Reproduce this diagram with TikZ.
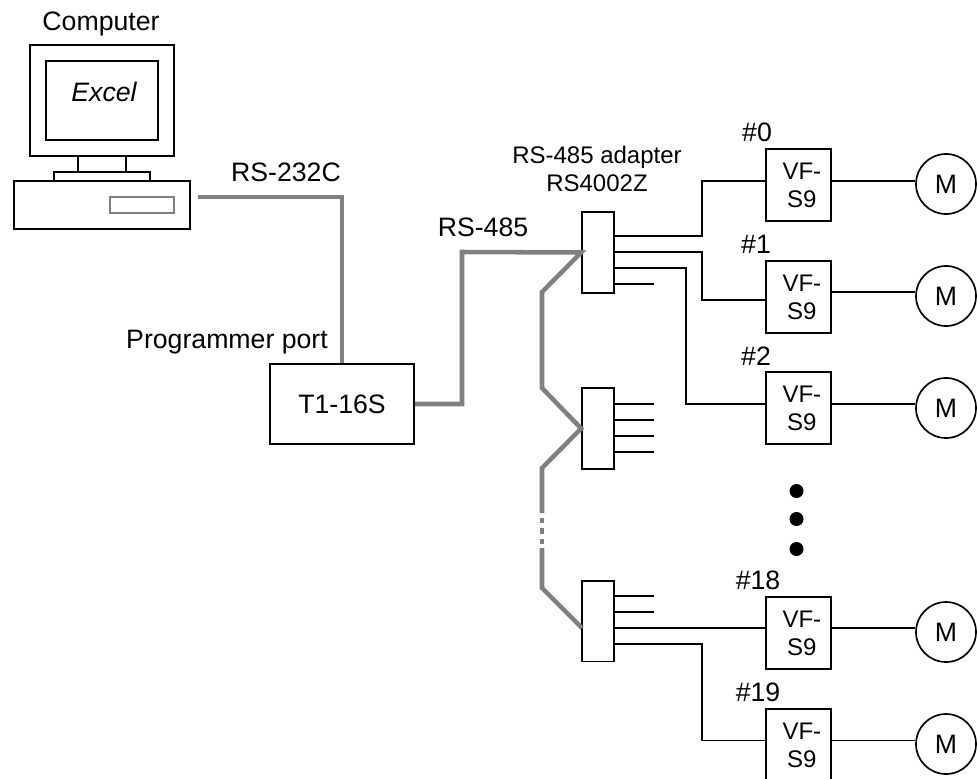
\documentclass[tikz,border=0pt]{standalone}
\usepackage{fontspec}
\setmainfont{Liberation Sans}
\usepackage{tikz}
\usetikzlibrary{positioning,calc}
\definecolor{CableGray}{RGB}{128,128,128}
\newcommand{\vfname}{\hspace*{5pt}VF-\\\hspace*{5pt}S9}
\tikzset{wire/.style={draw=black,line width=1.25pt}, cable/.style={draw=CableGray,line width=3.4pt,miter limit=10}, lab/.style={anchor=base,inner sep=0pt,font=\fontsize{20}{24}\selectfont}, sublab/.style={inner sep=0pt,align=center,font=\fontsize{18}{21}\selectfont}, plcbox/.style={draw=black,line width=1.25pt,fill=white,minimum width=108pt,minimum height=60pt,inner sep=0pt,font=\fontsize{20}{24}\selectfont}, adapter/.style={draw=black,line width=1.25pt,fill=white,minimum width=24pt,minimum height=60.5pt,inner sep=0pt}, vfbox/.style={draw=black,line width=1.25pt,fill=white,minimum width=48.5pt,minimum height=54pt,inner sep=0pt,align=center,font=\fontsize{18}{21}\selectfont}, motor/.style={circle,draw=black,line width=1.25pt,fill=white,minimum size=45pt,inner sep=0pt,font=\fontsize{20}{24}\selectfont}, dot/.style={circle,fill=black,minimum size=10.5pt,inner sep=0pt}}

\begin{document}
\begin{tikzpicture}[x=0.75pt,y=-0.75pt]
\useasboundingbox (0,0) rectangle (977,778);
% computer
\draw[wire] (30,45) rectangle (174,156);
\draw[wire] (46,61) rectangle (158,140);
\draw[wire] (78,156) rectangle (126,172);
\draw[wire] (54,172) rectangle (150,181);
\draw[wire] (14,181) rectangle (190,229);
\draw[draw=CableGray,line width=1.25pt] (110,197) rectangle (174,213);
\node[lab] (computer) at (101,30) {Computer};
\node[lab] (excel) at (104,101) {\itshape Excel};
\coordinate (pc) at (198,197);
\coordinate (branch) at (542,292);
% boxes
\node[plcbox] (plc) at (342,404) {T1-16S};
\node[adapter] (ad0) at (598,252.5) {};
\node[adapter] (ad1) at (598,428.5) {};
\node[adapter] (ad2) at (598,621) {};
\node[vfbox] (vf0) at (798.5,185) {\vfname};
\node[vfbox] (vf1) at (798.5,297) {\vfname};
\node[vfbox] (vf2) at (798.5,408) {\vfname};
\node[vfbox] (vf18) at (798.5,633) {\vfname};
\node[vfbox] (vf19) at (798.5,745) {\vfname};
\node[motor] (m0) at (946,184) {M};
\node[motor] (m1) at (946,296) {M};
\node[motor] (m2) at (946,408) {M};
\node[motor] (m18) at (946,632) {M};
\node[motor] (m19) at (946,744) {M};
% gray cables
\coordinate (tb) at (542,388);
\coordinate (tc) at (542,468);
\coordinate (td) at (542,513);
\coordinate (te) at (542,518);
\coordinate (tf) at (542,545);
\coordinate (tg) at (542,548);
\coordinate (th) at (542,588);
\coordinate (ti) at (582,628);
\coordinate (tj) at (462,252);
\draw[cable] (pc) -| (plc.north);
\draw[cable] (plc.east) -| (tj) -- (ad0.west) -- (branch) -- (tb) -- (ad1.west) -- (tc) -- (td);
\draw[cable,dash pattern=on 4.1pt off 3.75pt] (te) -- (tf);
\draw[cable] (tg) -- (th) -- (ti);
% black wires
\coordinate (ka) at (702,236);
\coordinate (kb) at (702,252);
\coordinate (kc) at (686,268);
\coordinate (kd) at (654,284);
\coordinate (ia) at (766,181);
\coordinate (ib) at (766,300);
\coordinate (ic) at (766,404);
\coordinate (id) at (766,628);
\coordinate (ie) at (766,740.5);
\coordinate (ke) at (702,644);
\coordinate (oa) at (831,181);
\coordinate (ob) at (831,292);
\coordinate (oc) at (831,404);
\coordinate (od) at (831,628);
\coordinate (oe) at (831,740.5);
\draw[wire] (ad0.east |- ka) -- (ka) |- (ia);
\draw[wire] (ad0.east |- kb) -- (kb) |- (ib);
\draw[wire] (ad0.east |- kc) -- (kc) |- (ic);
\draw[wire] (ad0.east |- kd) -- (kd);
\draw[wire] (ad1.east |- 0,404) -- (654,404);
\draw[wire] (ad1.east |- 0,420) -- (654,420);
\draw[wire] (ad1.east |- 0,436) -- (654,436);
\draw[wire] (ad1.east |- 0,452) -- (654,452);
\draw[wire] (ad2.east |- 0,596) -- (654,596);
\draw[wire] (ad2.east |- 0,612) -- (654,612);
\draw[wire] (ad2.east |- id) -- (id);
\draw[wire] (ad2.east |- ke) -- (ke) |- (ie);
\draw[wire] (oa) -- (m0.west |- oa);
\draw[wire] (ob) -- (m1.west |- ob);
\draw[wire] (oc) -- (m2.west |- oc);
\draw[wire] (od) -- (m18.west |- od);
\draw[wire] (oe) -- (m19.west |- oe);
% labels
\node[lab] (rsa) at (286,181) {RS-232C};
\node[lab] (rsb) at (483,236) {RS-485};
\node[lab] (port) at (227,348) {Programmer port};
\node[sublab] (adname) at (597,169) {RS-485 adapter\\RS4002Z};
\node[lab] (na) at (757,141) {\#0};
\node[lab] (nb) at (756,253) {\#1};
\node[lab] (nc) at (756,365) {\#2};
\node[lab] (nd) at (758,589) {\#18};
\node[lab] (ne) at (758,701) {\#19};
\node[dot] (da) at (796.5,491) {};
\node[dot] (db) at (796.5,519) {};
\node[dot] (dc) at (796.5,549) {};
\end{tikzpicture}
\end{document}
